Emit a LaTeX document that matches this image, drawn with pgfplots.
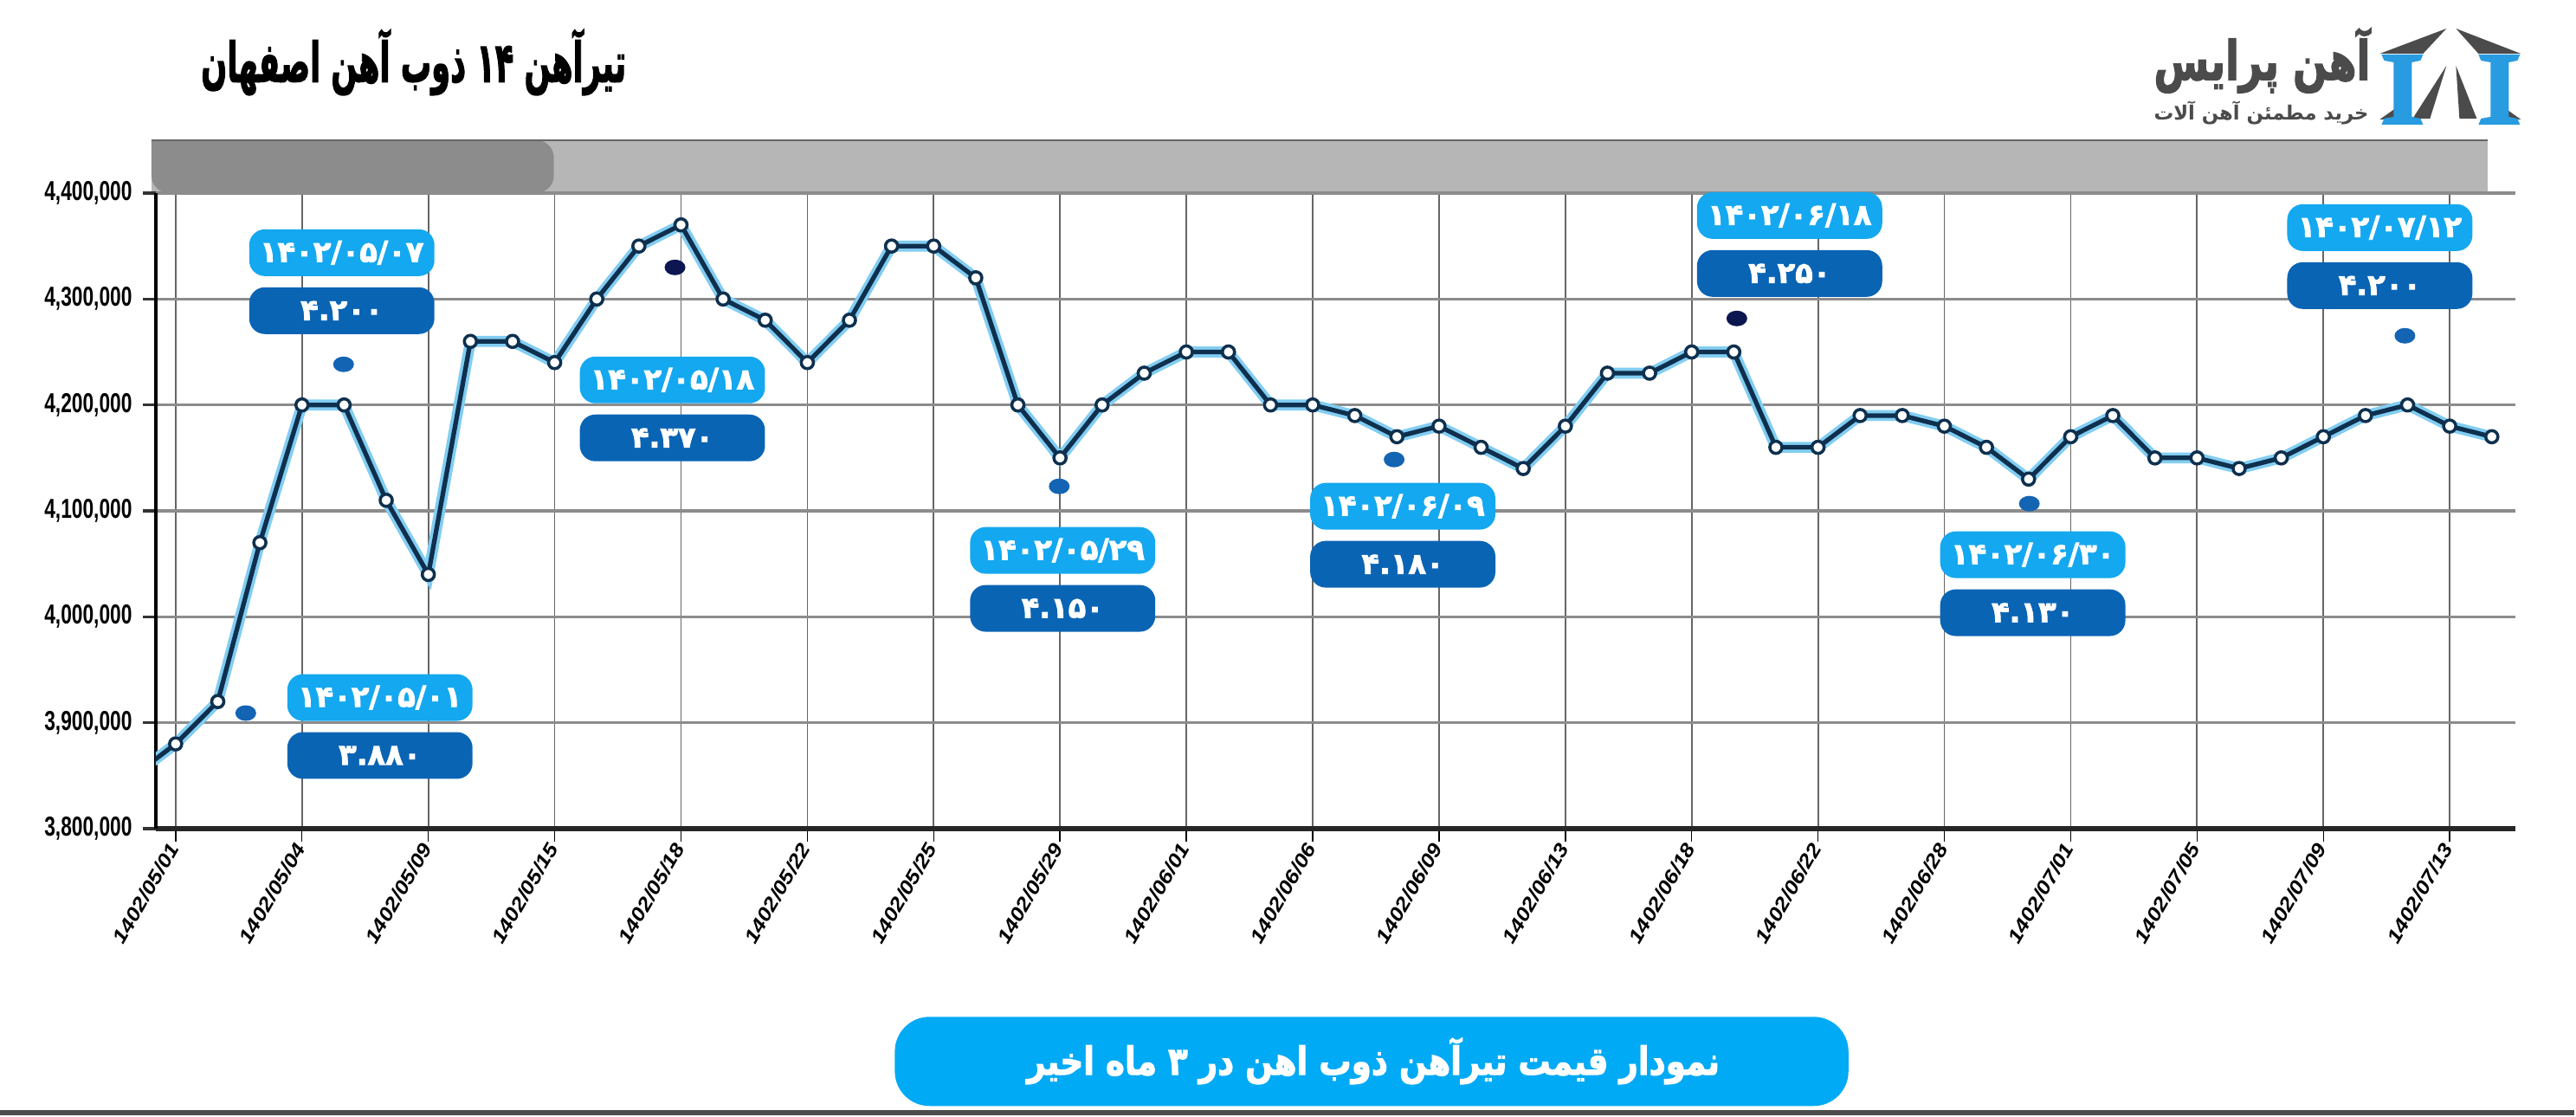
\documentclass[border=0pt]{standalone}
\usepackage{fontspec}
\usepackage{graphicx}
\usepackage{pgfplots}
\usepackage{pgfplotstable}
\pgfplotsset{compat=1.18}
\TeXXeTstate=1
\setmainfont{Liberation Sans}
\newfontfamily\arabicfont[Script=Arabic]{DejaVu Sans}
\newfontfamily\arabicheavy[Script=Arabic,FakeBold=2.5]{DejaVu Sans Bold}
\newfontfamily\ylabfont[FakeStretch=0.72]{Liberation Sans Bold}
\newfontfamily\xlabfont[FakeStretch=1.15]{Liberation Sans Bold Italic}

\definecolor{boxlight}{RGB}{20,168,240}
\definecolor{boxdark}{RGB}{10,100,180}
\definecolor{dotblue}{RGB}{20,100,180}
\definecolor{dotnavy}{RGB}{12,22,80}
\definecolor{linedark}{RGB}{14,48,78}
\definecolor{linehalo}{RGB}{130,205,242}
\definecolor{banddark}{RGB}{140,140,140}
\definecolor{bandlight}{RGB}{182,182,182}
\definecolor{banner}{RGB}{0,170,245}
\definecolor{logogray}{RGB}{75,75,75}
\definecolor{logoblue}{RGB}{40,155,225}

\pgfplotstableread{
x y
-1 3850000
0 3880000
1 3920000
2 4070000
3 4200000
4 4200000
5 4110000
6 4040000
7 4260000
8 4260000
9 4240000
10 4300000
11 4350000
12 4370000
13 4300000
14 4280000
15 4240000
16 4280000
17 4350000
18 4350000
19 4320000
20 4200000
21 4150000
22 4200000
23 4230000
24 4250000
25 4250000
26 4200000
27 4200000
28 4190000
29 4170000
30 4180000
31 4160000
32 4140000
33 4180000
34 4230000
35 4230000
36 4250000
37 4250000
38 4160000
39 4160000
40 4190000
41 4190000
42 4180000
43 4160000
44 4130000
45 4170000
46 4190000
47 4150000
48 4150000
49 4140000
50 4150000
51 4170000
52 4190000
53 4200000
54 4180000
55 4170000
}\pricedata

\newcommand{\annot}[4]{%
  \fill[boxlight, rounded corners=1.8mm] (#1,#2) rectangle ({#1+214},{#2+54});
  \fill[boxdark, rounded corners=1.8mm] (#1,{#2+67}) rectangle ({#1+214},{#2+121});
  \node[text=white, inner sep=0pt, font=\arabicheavy\fontsize{9.6}{11}\selectfont] at ({#1+107},{#2+27}) {#3};
  \node[text=white, inner sep=0pt, font=\arabicheavy\fontsize{9.6}{11}\selectfont] at ({#1+107},{#2+94}) {#4};
}

\begin{document}
\begin{tikzpicture}
\useasboundingbox (0,0) rectangle (29.75cm,12.89cm);
\fill[white] (0,0) rectangle (29.75cm,12.89cm);
\begin{scope}[x=0.01cm, y=-0.01cm, yshift=12.89cm]
  % grey header band
  \fill[bandlight] (175,162) rectangle (2875,223);
  \fill[banddark, rounded corners=2mm] (175,162) -- (640,162) -- (640,223) -- (175,223) [sharp corners] -- cycle;
  \draw[gray!80!black, line width=0.6pt] (175,162) -- (2875,162);
  % title
  \node[inner sep=0pt] at (478,72) {\scalebox{1}[1.8]{\resizebox{4.91cm}{!}{\arabicheavy\beginR تیرآهن ۱۴ ذوب آهن اصفهان\endR}}};
  % logo text
  \node[inner sep=0pt, text=logogray] at (2614,70) {\scalebox{1}[1.35]{\resizebox{2.5cm}{!}{\arabicheavy\beginR آهن پرایس\endR}}};
  \node[inner sep=0pt, text=logogray] at (2613,131) {\resizebox{2.48cm}{!}{\arabicfont\bfseries\beginR خرید مطمئن آهن آلات\endR}};
  % logo icon
  \fill[logogray] (2750,62) -- (2827,33) -- (2800,62) -- cycle;
  \fill[logogray] (2838,33) -- (2913,62) -- (2864,62) -- cycle;
  \fill[logogray] (2827,76) -- (2788,137) -- (2808,137) -- cycle;
  \fill[logogray] (2838,76) -- (2862,137) -- (2842,137) -- cycle;
  \fill[logogray] (2750,138) -- (2767,126) -- (2767,138) -- cycle;
  \fill[logogray] (2913,138) -- (2896,126) -- (2896,138) -- cycle;
  \foreach \dx in {0,112} {
    \fill[logoblue, xshift=\dx*0.01cm] (2752,63) -- (2800,63) -- (2797,70) -- (2787,72) -- (2787,135) -- (2797,137) -- (2800,144) -- (2752,144) -- (2755,137) -- (2766,135) -- (2766,72) -- (2755,70) -- cycle;
  }
\end{scope}

\begin{axis}[
  at={(1.80cm,3.32cm)}, anchor=south west, scale only axis,
  width=27.25cm, height=7.34cm,
  xmin=-0.47, xmax=55.56, ymin=3800000, ymax=4400000,
  scaled y ticks=false, scaled x ticks=false,
  axis x line*=bottom, axis y line*=left,
  x axis line style={-, line width=1.5pt, draw=black!85},
  y axis line style={-, line width=0.9pt, draw=black},
  xtick={0,3,...,54},
  xticklabels={1402/05/01,1402/05/04,1402/05/09,1402/05/15,1402/05/18,1402/05/22,1402/05/25,1402/05/29,1402/06/01,1402/06/06,1402/06/09,1402/06/13,1402/06/18,1402/06/22,1402/06/28,1402/07/01,1402/07/05,1402/07/09,1402/07/13},
  ytick={3800000,3900000,4000000,4100000,4200000,4300000,4400000},
  yticklabels={{3,800,000},{3,900,000},{4,000,000},{4,100,000},{4,200,000},{4,300,000},{4,400,000}},
  tick align=outside,
  major tick length=1.5mm,
  xtick style={line width=0.4pt, black},
  ytick style={line width=1pt, black!80},
  grid=major,
  major x grid style={line width=0.5pt, black!60},
  major y grid style={line width=0.9pt, black!45},
  xticklabel style={font=\xlabfont\fontsize{6.4}{7}\selectfont, rotate=60, anchor=east, inner sep=1pt},
  yticklabel style={font=\ylabfont\fontsize{9}{9}\selectfont, anchor=east},
]
\addplot[linehalo, line width=3.6pt, forget plot] table[x=x,y=y]{\pricedata};
\addplot[linedark, line width=1.5pt, mark=*, mark size=2pt, mark options={fill=white, draw=linedark, line width=1pt}] table[x=x,y=y]{\pricedata};
\end{axis}

\begin{scope}[x=0.01cm, y=-0.01cm, yshift=12.89cm]
  \annot{288}{265}{۱۴۰۲/۰۵/۰۷}{۴.۲۰۰}
  \annot{332}{779}{۱۴۰۲/۰۵/۰۱}{۳.۸۸۰}
  \annot{670}{412}{۱۴۰۲/۰۵/۱۸}{۴.۳۷۰}
  \annot{1121}{609}{۱۴۰۲/۰۵/۲۹}{۴.۱۵۰}
  \annot{1514}{558}{۱۴۰۲/۰۶/۰۹}{۴.۱۸۰}
  \annot{1961}{222}{۱۴۰۲/۰۶/۱۸}{۴.۲۵۰}
  \annot{2242}{614}{۱۴۰۲/۰۶/۳۰}{۴.۱۳۰}
  \annot{2643}{236}{۱۴۰۲/۰۷/۱۲}{۴.۲۰۰}
  \fill[dotblue] (397,421) ellipse [x radius=12, y radius=9];
  \fill[dotblue] (284,824) ellipse [x radius=12, y radius=9];
  \fill[dotnavy] (780,309) ellipse [x radius=12, y radius=9];
  \fill[dotblue] (1224,562) ellipse [x radius=12, y radius=9];
  \fill[dotblue] (1611,531) ellipse [x radius=12, y radius=9];
  \fill[dotnavy] (2007,368) ellipse [x radius=12, y radius=9];
  \fill[dotblue] (2345,582) ellipse [x radius=12, y radius=9];
  \fill[dotblue] (2779,388) ellipse [x radius=12, y radius=9];
  % bottom banner
  \fill[banner, rounded corners=4mm] (1034,1175) rectangle (2136,1278);
  \node[inner sep=0pt, text=white] at (1587,1226) {\scalebox{1}[1.2]{\resizebox{8.0cm}{!}{\arabicheavy\beginR نمودار قیمت تیرآهن ذوب اهن در ۳ ماه اخیر\endR}}};
  \fill[black!70] (0,1283) rectangle (2975,1289);
\end{scope}
\end{tikzpicture}
\end{document}
